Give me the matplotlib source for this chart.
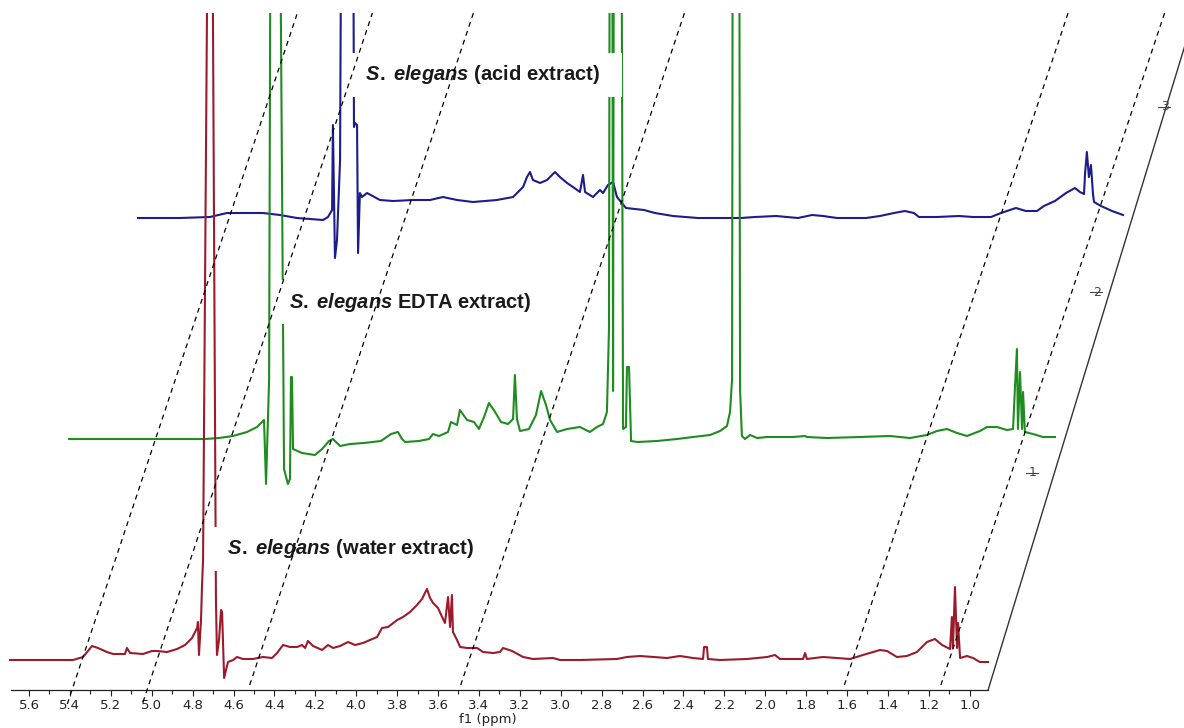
import matplotlib
matplotlib.use("Agg")
import matplotlib.pyplot as plt
from matplotlib.ticker import FixedLocator
import numpy as np

plt.rcParams['font.family'] = ['DejaVu Sans']
plt.rcParams['mathtext.fontset'] = 'custom'
plt.rcParams['mathtext.rm'] = 'Liberation Sans:bold'
plt.rcParams['mathtext.it'] = 'Liberation Sans:italic:bold'
plt.rcParams['mathtext.bf'] = 'Liberation Sans:bold'

# 1H NMR traces: (chemical shift in ppm, intensity above own baseline)
TOP = 700  # peaks that run off the top of the panel
water_extract = [
    (5.693, 0), (5.385, 0), (5.336, 3), (5.292, 14), (5.263, 12), (5.219, 8), (5.189, 6),
    (5.131, 6), (5.121, 12), (5.106, 7), (5.043, 6), (4.999, 9), (4.974, 9), (4.925, 8),
    (4.876, 11), (4.837, 15), (4.803, 22), (4.778, 32), (4.774, 38), (4.769, 5), (4.759, 40),
    (4.754, 75), (4.749, 100), (4.728, TOP), (4.702, TOP), (4.686, 60), (4.681, 5),
    (4.671, 20), (4.661, 50), (4.656, 48), (4.646, -18), (4.637, -10), (4.627, -2),
    (4.602, 0), (4.583, 3), (4.554, 1), (4.505, 1), (4.456, 3), (4.412, 2), (4.387, 7),
    (4.358, 15), (4.324, 13), (4.289, 13), (4.265, 15), (4.250, 12), (4.236, 19),
    (4.211, 14), (4.167, 10), (4.138, 15), (4.113, 12), (4.079, 14), (4.040, 18),
    (4.006, 15), (3.967, 17), (3.932, 20), (3.898, 23), (3.874, 32), (3.844, 33),
    (3.800, 40), (3.771, 43), (3.737, 48), (3.703, 55), (3.678, 61), (3.664, 67),
    (3.654, 71), (3.639, 62), (3.624, 57), (3.600, 52), (3.580, 43), (3.566, 37),
    (3.551, 63), (3.541, 33), (3.532, 65), (3.527, 28), (3.507, 20), (3.492, 13),
    (3.458, 12), (3.409, 12), (3.380, 8), (3.331, 7), (3.297, 8), (3.282, 12),
    (3.238, 9), (3.184, 3), (3.135, 1), (3.038, 2), (3.003, 0), (2.906, 0), (2.725, 1),
    (2.676, 3), (2.612, 4), (2.549, 3), (2.480, 2), (2.417, 4), (2.353, 2), (2.304, 1),
    (2.299, 13), (2.285, 13), (2.280, 1), (2.221, 0), (2.089, 1), (1.991, 3), (1.952, 5),
    (1.928, 1), (1.815, 1), (1.805, 7), (1.796, 1), (1.717, 3), (1.585, 1), (1.522, 5),
    (1.439, 10), (1.404, 9), (1.356, 3), (1.307, 4), (1.258, 8), (1.209, 18), (1.170, 21),
    (1.135, 15), (1.096, 11), (1.087, 43), (1.082, 12), (1.072, 73), (1.062, 12),
    (1.057, 37), (1.047, 2), (1.013, 4), (0.984, 2), (0.950, -2), (0.910, -2),
]
edta_extract = [
    (5.734, 0), (5.069, 0), (5.001, 1), (4.933, 3), (4.864, 7), (4.815, 12), (4.781, 19),
    (4.771, -45), (4.756, 60), (4.747, TOP), (4.708, TOP), (4.683, -30), (4.664, -45),
    (4.654, -40), (4.649, 62), (4.644, 62), (4.639, -10), (4.595, -14), (4.532, -16),
    (4.497, -10), (4.463, -2), (4.444, 0), (4.409, -7), (4.360, -5), (4.292, -4),
    (4.209, -2), (4.160, 5), (4.126, 7), (4.106, 0), (4.091, -3), (4.023, -2), (3.974, 0),
    (3.955, 5), (3.925, 3), (3.881, 7), (3.867, 17), (3.837, 14), (3.823, 29), (3.788, 19),
    (3.754, 17), (3.730, 10), (3.705, 22), (3.681, 36), (3.651, 27), (3.622, 17),
    (3.588, 15), (3.563, 20), (3.554, 64), (3.544, 20), (3.529, 8), (3.485, 10),
    (3.451, 24), (3.426, 48), (3.402, 34), (3.382, 19), (3.348, 7), (3.299, 10),
    (3.236, 12), (3.187, 7), (3.153, 12), (3.123, 15), (3.104, 27), (3.094, 110),
    (3.089, TOP), (3.079, TOP), (3.074, 48), (3.069, TOP), (3.035, TOP), (3.025, 10),
    (3.011, 12), (3.006, 72), (2.996, 72), (2.986, -2), (2.957, -3), (2.859, -2),
    (2.761, 0), (2.683, 2), (2.600, 4), (2.551, 8), (2.517, 13), (2.502, 27), (2.492, 60),
    (2.488, TOP), (2.458, TOP), (2.453, 50), (2.444, 3), (2.429, 0), (2.404, 4),
    (2.370, 1), (2.321, 2), (2.194, 2), (2.135, 3), (2.126, 2), (2.028, 1), (1.867, 2),
    (1.720, 3), (1.622, 1), (1.539, 4), (1.490, 8), (1.441, 10), (1.392, 6), (1.343, 3),
    (1.280, 8), (1.245, 12), (1.197, 12), (1.148, 9), (1.118, 10), (1.109, 50),
    (1.099, 90), (1.094, 10), (1.084, 67), (1.074, 10), (1.069, 47), (1.060, 7),
    (1.021, 5), (0.972, 2), (0.913, 2),
]
acid_extract = [
    (5.727, 0), (5.522, 0), (5.375, 1), (5.292, 5), (5.116, 5), (5.033, 3), (4.950, 0),
    (4.822, -2), (4.798, 1), (4.778, 8), (4.774, 93), (4.764, -40), (4.754, -22),
    (4.739, 58), (4.725, TOP), (4.681, TOP), (4.671, 91), (4.666, 95), (4.656, 93),
    (4.651, -35), (4.642, 25), (4.632, 21), (4.607, 25), (4.544, 18), (4.480, 17),
    (4.382, 18), (4.299, 18), (4.236, 21), (4.167, 18), (4.089, 16), (3.972, 18),
    (3.893, 21), (3.844, 31), (3.825, 41), (3.810, 46), (3.796, 38), (3.761, 35),
    (3.727, 38), (3.688, 46), (3.664, 41), (3.629, 35), (3.600, 31), (3.566, 26),
    (3.551, 43), (3.541, 26), (3.502, 21), (3.468, 28), (3.453, 25), (3.429, 33),
    (3.404, 36), (3.385, 21), (3.341, 10), (3.253, 8), (3.199, 5), (3.111, 2), (2.989, 0),
    (2.778, 0), (2.710, 1), (2.607, 2), (2.500, 0), (2.431, 3), (2.377, 2), (2.309, 0),
    (2.167, 0), (2.099, 2), (2.030, 5), (1.977, 7), (1.933, 5), (1.908, 1), (1.820, 1),
    (1.712, 2), (1.644, 1), (1.556, 1), (1.507, 5), (1.434, 10), (1.385, 7), (1.331, 7),
    (1.297, 12), (1.243, 17), (1.189, 25), (1.145, 30), (1.121, 26), (1.101, 24),
    (1.096, 44), (1.087, 66), (1.077, 41), (1.067, 53), (1.057, 24), (1.052, 16),
    (1.018, 12), (0.964, 7), (0.910, 3),
]

# trace captions (spaces widen the white backing box)
spectrum_labels = [
    r" $\mathit{S.\;elegans}$ (water extract)",
    r"$\mathit{S.\;elegans}$ EDTA extract)",
    r" $\mathit{S.\;elegans}$ (acid extract)   ",
]
label_positions = [(4.039, 141), (3.737, 388), (3.367, 615)]
spectrum_colors = ['#9b1b2b', '#1f8c1f', '#1c1c8c']

major_ticks = [5.6, 5.4, 5.2, 5.0, 4.8, 4.6, 4.4, 4.2, 4.0, 3.8, 3.6, 3.4,
               3.2, 3.0, 2.8, 2.6, 2.4, 2.2, 2.0, 1.8, 1.6, 1.4, 1.2, 1.0]
minor_ticks = [5.5, 5.3, 5.1, 4.9, 4.7, 4.5, 4.3, 4.1, 3.9, 3.7, 3.5, 3.3,
               3.1, 2.9, 2.7, 2.5, 2.3, 2.1, 1.9, 1.7, 1.5, 1.3, 1.1]

# dashed guide lines: ppm where each meets the baseline axis
guide_ppm = [5.390, 5.023, 4.529, 3.497, 1.621, 1.149]
guide_start = [-14, -12, 5, 5, 5, 5]
GUIDE_SLOPE = 0.001628   # ppm per intensity unit

# stacking offsets between consecutive traces
STEP_PPM = 0.330
STEP_INT = 221
BASE = 30

stack_axis_labels = ['1', '2', '3']
stack_label_pos = [(0.690, 217), (0.378, 398), (0.045, 583)]

fig = plt.figure(figsize=(11.84, 7.28), dpi=100)
ax = fig.add_axes([0.0, 38 / 728, 1.0, 677 / 728])
ax.set_xlim(5.742, -0.048)
ax.set_ylim(0, 677)

traces = [water_extract, edta_extract, acid_extract]
zorders = [4, 3, 2]
for k, (pts, color, z) in enumerate(zip(traces, spectrum_colors, zorders)):
    arr = np.array(pts, dtype=float)
    ax.plot(arr[:, 0] - k * STEP_PPM, arr[:, 1] + BASE + k * STEP_INT,
            color=color, lw=1.5, zorder=z, solid_joinstyle='round')

for text, (px, py) in zip(spectrum_labels, label_positions):
    ax.text(px, py, text, ha='center', va='center', fontsize=14.5,
            fontweight='bold', family='Liberation Sans', color='#1a1a1a',
            zorder=5,
            bbox=dict(boxstyle='square,pad=0.5', fc='white', ec='none'))

for p0, y0 in zip(guide_ppm, guide_start):
    ys = np.array([y0, 677.0])
    ax.plot(p0 - GUIDE_SLOPE * ys, ys, color='black', lw=0.9,
            ls=(0, (4, 3.5)), zorder=6, clip_on=False)

# slanted stacking axis
kk = np.array([0.0, 3.1])
ax.plot(0.91 - kk * STEP_PPM, kk * STEP_INT, color='#333333', lw=1.0, zorder=6)
for lab, (px, py) in zip(stack_axis_labels, stack_label_pos):
    ax.text(px, py, lab, ha='center', va='center', fontsize=9, color='#444444',
            zorder=7)
    ax.plot([px + 0.035, px - 0.025], [py, py], color='#444444', lw=0.8, zorder=7)

for side in ['top', 'left', 'right']:
    ax.spines[side].set_visible(False)
ax.spines['bottom'].set_bounds(0.91, 5.69)
ax.spines['bottom'].set_color('#222222')
ax.spines['bottom'].set_linewidth(0.9)
ax.xaxis.set_major_locator(FixedLocator(major_ticks))
ax.xaxis.set_minor_locator(FixedLocator(minor_ticks))
ax.set_xticklabels([f"{t:.1f}" for t in major_ticks])
ax.tick_params(axis='x', which='major', direction='out', length=4.5, width=0.8,
               pad=2, labelsize=9.5, colors='#222222')
ax.tick_params(axis='x', which='minor', direction='out', length=3, width=0.8,
               colors='#222222')
ax.tick_params(axis='y', left=False, labelleft=False)
ax.set_yticks([])
ax.set_xlabel('f1 (ppm)', fontsize=9.5, color='#222222')
ax.xaxis.set_label_coords(488 / 1184, -23 / 677)
ax.patch.set_visible(False)

fig.savefig('out.png', dpi=100, facecolor='white')
